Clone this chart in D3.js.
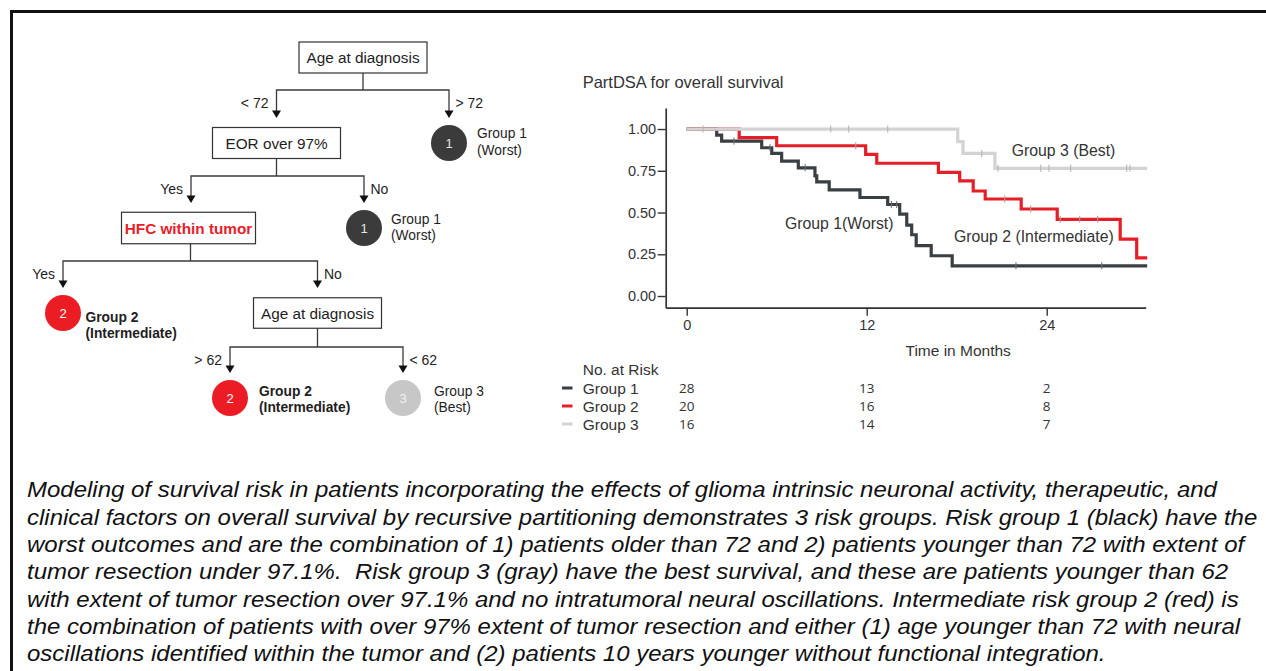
<!DOCTYPE html>
<html>
<head>
<meta charset="utf-8">
<script src="https://cdn.jsdelivr.net/npm/d3@7"></script>
<style>
  body { margin: 0; background: #fff; }
  svg { display: block; }
  .caption text { white-space: pre; }
</style>
</head>
<body>
<svg id="fig" width="1266" height="671"></svg>
<script>
// ---------------- data ----------------
const groups = ["Group 1", "Group 2", "Group 3"];
const groupColors = ["#393f43", "#e51f28", "#d3d3d3"];
const censorColors = ["#6e7275", "#a3a3a3", "#b5b5b5"];
const curveLabels = ["Group 1(Worst)", "Group 2 (Intermediate)", "Group 3 (Best)"];

// Kaplan–Meier drops: [month, survival after the drop]
const g1Events = [[2.0, 0.964], [2.33, 0.928], [5.0, 0.888], [5.67, 0.854], [6.33, 0.808],
                  [7.44, 0.768], [8.55, 0.72], [8.67, 0.684], [9.5, 0.636], [11.55, 0.59],
                  [13.4, 0.548], [14.2, 0.49], [14.67, 0.425], [15.0, 0.367], [15.3, 0.302],
                  [16.3, 0.241], [17.7, 0.181]];
const g2Events = [[3.5, 0.948], [6.0, 0.90], [11.93, 0.848], [12.67, 0.795], [16.78, 0.741],
                  [18.2, 0.689], [19.1, 0.629], [19.9, 0.581], [22.3, 0.521], [24.7, 0.459],
                  [28.9, 0.341], [30.0, 0.229]];
const g3Events = [[18.07, 0.925], [18.42, 0.854], [20.55, 0.765]];

// censoring times (months)
const g1Censor = [3.15, 5.55, 7.9, 13.65, 14.0, 21.95, 27.67];
const g2Censor = [11.27, 21.2, 22.93, 24.9, 26.2, 27.4];
const g3Censor = [1.09, 9.6, 10.8, 13.4, 19.67, 20.75, 23.6, 24.15, 25.6, 29.33, 29.55];

const followUpEnd = 30.7;
const timeTicks = [0, 12, 24];
const survTicks = [0, 0.25, 0.5, 0.75, 1];
const atRiskTimes = [0, 12, 24];
const atRisk = [[28, 13, 2], [20, 16, 8], [16, 14, 7]];

// decision tree text
const splitLabels = ["Age at diagnosis", "EOR over 97%", "HFC within tumor", "Age at diagnosis"];
const branchLabels = [["< 72", "> 72"], ["Yes", "No"], ["Yes", "No"], ["> 62", "< 62"]];
const leafGroups = [1, 1, 2, 2, 3];
const leafNames = [["Group 1", "(Worst)"], ["Group 1", "(Worst)"], ["Group 2", "(Intermediate)"],
                   ["Group 2", "(Intermediate)"], ["Group 3", "(Best)"]];

const captionLines = [
  "Modeling of survival risk in patients incorporating the effects of glioma intrinsic neuronal activity, therapeutic, and",
  "clinical factors on overall survival by recursive partitioning demonstrates 3 risk groups. Risk group 1 (black) have the",
  "worst outcomes and are the combination of 1) patients older than 72 and 2) patients younger than 72 with extent of",
  "tumor resection under 97.1%.  Risk group 3 (gray) have the best survival, and these are patients younger than 62",
  "with extent of tumor resection over 97.1% and no intratumoral neural oscillations. Intermediate risk group 2 (red) is",
  "the combination of patients with over 97% extent of tumor resection and either (1) age younger than 72 with neural",
  "oscillations identified within the tumor and (2) patients 10 years younger without functional integration."
];

// ---------------- drawing ----------------
const svg = d3.select("#fig");
const SANS = "'Liberation Sans', Arial, Helvetica, sans-serif";

// frame
svg.append("path")
  .attr("d", "M11.5,671V11.5H1266")
  .attr("fill", "none").attr("stroke", "#111").attr("stroke-width", 3);

// ---- decision tree ----
const tree = svg.append("g").attr("font-family", SANS);
const leafColor = { 1: "#3b3b3b", 2: "#ec1c24", 3: "#c7c7c7" };
const leafText = { 1: "#e6e6e6", 2: "#ffffff", 3: "#f2f2f2" };

// split boxes: centre, size, branch row, children x, arrow tip
const splits = [
  { cx: 363, cy: 57.5, w: 128, h: 31, by: 90, kids: [276.5, 449], tip: 118 },
  { cx: 276.5, cy: 143, w: 128, h: 31, by: 176, kids: [191, 364], tip: 203 },
  { cx: 188.5, cy: 228, w: 134, h: 31.5, stem: 190.5, by: 261, kids: [63, 317.5], tip: 288 },
  { cx: 317.5, cy: 313, w: 128, h: 30.5, by: 347, kids: [230, 403], tip: 373 }
];
const leaves = [
  { cx: 449, cy: 143, tx: 477, dy: [-10, 7], bold: false },
  { cx: 364, cy: 228, tx: 391, dy: [-9, 7], bold: false },
  { cx: 63, cy: 313, tx: 85.5, dy: [4, 20], bold: true },
  { cx: 230, cy: 398, tx: 259, dy: [-7, 9], bold: true },
  { cx: 403, cy: 398, tx: 434, dy: [-7, 9], bold: false }
];

splits.forEach((s, i) => {
  const stemX = s.stem ?? s.cx;
  tree.append("path")
    .attr("d", `M${stemX},${s.cy + s.h / 2}V${s.by}M${s.kids[0]},${s.tip - 6}V${s.by}H${s.kids[1]}V${s.tip - 6}`)
    .attr("fill", "none").attr("stroke", "#3a3a3a").attr("stroke-width", 1.3);
  s.kids.forEach(kx => {
    tree.append("path")
      .attr("d", `M${kx - 4.5},${s.tip - 7.5}L${kx + 4.5},${s.tip - 7.5}L${kx},${s.tip}Z`)
      .attr("fill", "#111");
  });
  tree.append("rect")
    .attr("x", s.cx - s.w / 2).attr("y", s.cy - s.h / 2)
    .attr("width", s.w).attr("height", s.h)
    .attr("fill", "#fff").attr("stroke", "#333").attr("stroke-width", 1.2);
  const red = i === 2;
  tree.append("text")
    .attr("x", s.cx).attr("y", s.cy)
    .attr("text-anchor", "middle").attr("dominant-baseline", "central")
    .attr("font-size", 15.3)
    .attr("font-weight", red ? "bold" : "normal")
    .attr("fill", red ? "#e8202a" : "#1e1e1e")
    .text(splitLabels[i]);
  // branch labels
  const ly = s.by + 12.5;
  tree.append("text").attr("x", s.kids[0] - 8).attr("y", ly)
    .attr("text-anchor", "end").attr("dominant-baseline", "central")
    .attr("font-size", 14).attr("fill", "#1e1e1e").text(branchLabels[i][0]);
  tree.append("text").attr("x", s.kids[1] + 6.5).attr("y", ly)
    .attr("text-anchor", "start").attr("dominant-baseline", "central")
    .attr("font-size", 14).attr("fill", "#1e1e1e").text(branchLabels[i][1]);
});

leaves.forEach((l, i) => {
  const g = leafGroups[i];
  tree.append("circle").attr("cx", l.cx).attr("cy", l.cy).attr("r", 18)
    .attr("fill", leafColor[g]);
  tree.append("text").attr("x", l.cx).attr("y", l.cy)
    .attr("text-anchor", "middle").attr("dominant-baseline", "central")
    .attr("font-size", 13).attr("fill", leafText[g]).text(g);
  leafNames[i].forEach((t, j) => {
    tree.append("text").attr("x", l.tx).attr("y", l.cy + l.dy[j])
      .attr("dominant-baseline", "central")
      .attr("font-size", 13.8)
      .attr("font-weight", l.bold ? "bold" : "normal")
      .attr("fill", "#1e1e1e").text(t);
  });
});

// ---- Kaplan–Meier panel ----
const km = svg.append("g").attr("font-family", SANS).attr("fill", "#333");
const x = d3.scaleLinear().domain([-1.4, 30.6]).range([665.7, 1145.7]);
const y = d3.scaleLinear().domain([-0.07, 1.126]).range([307.7, 108]);

km.append("text").attr("x", 582.7).attr("y", 81.7)
  .attr("dominant-baseline", "central").attr("font-size", 16.5)
  .attr("fill", "#333").text("PartDSA for overall survival");

const yAxis = km.append("g").attr("transform", `translate(${x.range()[0]},0)`)
  .call(d3.axisLeft(y).tickValues(survTicks).tickFormat(d3.format(".2f")).tickSize(8).tickSizeOuter(0));
const xAxis = km.append("g").attr("transform", `translate(0,${y.range()[0]})`)
  .call(d3.axisBottom(x).tickValues(timeTicks).tickSize(8).tickSizeOuter(0));
[yAxis, xAxis].forEach(a => {
  a.select(".domain").attr("stroke", "#333").attr("stroke-width", 1.7);
  a.selectAll(".tick line").attr("stroke", "#333").attr("stroke-width", 1.4);
  a.selectAll(".tick text").attr("font-family", SANS).attr("font-size", 14.5).attr("fill", "#333");
});
yAxis.selectAll(".tick text").attr("x", -9.5);
xAxis.selectAll(".tick text").attr("y", 12);

km.append("text").attr("x", x(18.1)).attr("y", 350)
  .attr("text-anchor", "middle").attr("dominant-baseline", "central")
  .attr("font-size", 15.5).text("Time in Months");

const events = [g1Events, g2Events, g3Events];
const censors = [g1Censor, g2Censor, g3Censor];
const line = d3.line().x(d => x(d[0])).y(d => y(d[1])).curve(d3.curveStepAfter);
function survAt(ev, t) {
  let s = 1;
  ev.forEach(([et, es]) => { if (et <= t) s = es; });
  return s;
}

// draw group 3 last so it sits on top of the shared 1.00 start
[0, 1, 2].forEach(gi => {
  const ev = events[gi];
  const pts = [[0, 1], ...ev, [followUpEnd, ev[ev.length - 1][1]]];
  km.append("path").attr("d", line(pts))
    .attr("fill", "none").attr("stroke", groupColors[gi])
    .attr("stroke-width", 3.2).attr("stroke-linejoin", "miter");
  km.append("g").selectAll("line").data(censors[gi]).join("line")
    .attr("x1", d => x(d)).attr("x2", d => x(d))
    .attr("y1", d => y(survAt(ev, d)) - 3.5).attr("y2", d => y(survAt(ev, d)) + 3.5)
    .attr("stroke", censorColors[gi]).attr("stroke-width", 1.1);
});

// curve annotations (month, survival anchors)
const labelAnchors = [[6.55, 0.437], [17.82, 0.355], [21.67, 0.874]];
labelAnchors.forEach((a, i) => {
  km.append("text").attr("x", x(a[0])).attr("y", y(a[1]))
    .attr("dominant-baseline", "central").attr("font-size", 15.8)
    .attr("fill", "#333").text(curveLabels[i]);
});

// number at risk table
const riskTop = 369, rowH = 18;
km.append("text").attr("x", 582.7).attr("y", riskTop)
  .attr("dominant-baseline", "central").attr("font-size", 15.5).text("No. at Risk");
groups.forEach((gname, gi) => {
  const ry = riskTop + 19 + gi * rowH;
  km.append("line").attr("x1", 562).attr("x2", 572.5).attr("y1", ry).attr("y2", ry)
    .attr("stroke", groupColors[gi]).attr("stroke-width", 3);
  km.append("text").attr("x", 582.7).attr("y", ry)
    .attr("dominant-baseline", "central").attr("font-size", 15.5).text(gname);
  atRisk[gi].forEach((n, ti) => {
    km.append("text").attr("x", x(atRiskTimes[ti])).attr("y", ry)
      .attr("text-anchor", "middle").attr("dominant-baseline", "central")
      .attr("font-family", "'Open Sans', 'Noto Sans', sans-serif")
      .attr("font-size", 13.5).attr("fill", "#333").text(n);
  });
});

// ---- caption ----
const cap = svg.append("g").attr("class", "caption")
  .attr("font-family", "'Liberation Sans Narrow', 'Arial Narrow', 'Liberation Sans', Arial, sans-serif")
  .attr("font-style", "italic").attr("font-size", 21.5).attr("fill", "#111");
const capTexts = cap.selectAll("text").data(captionLines).join("text")
  .attr("x", 0).attr("y", (d, i) => 497.5 + i * 27.3)
  .text(d => d);
const firstW = capTexts.node().getComputedTextLength();
const k = 1191 / firstW;
cap.attr("transform", `translate(27,0) scale(${k},1)`);
</script>
</body>
</html>
